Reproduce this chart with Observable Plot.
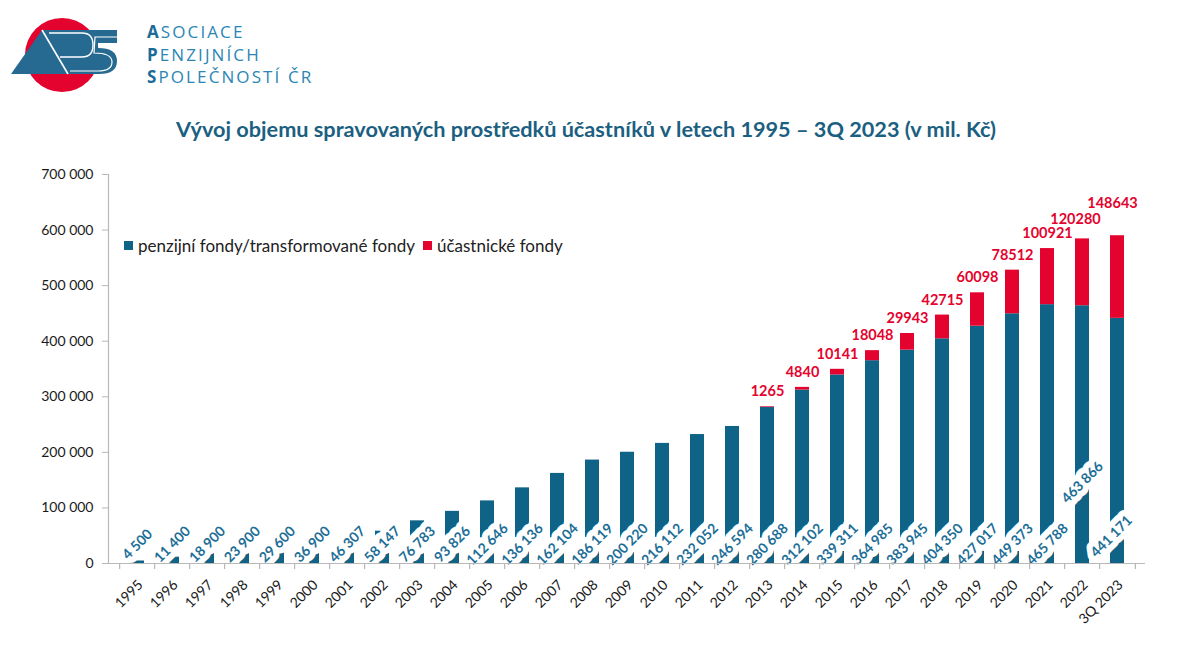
<!DOCTYPE html>
<html>
<head>
<meta charset="utf-8">
<script src="https://cdn.jsdelivr.net/npm/d3@7"></script>
<script src="https://cdn.jsdelivr.net/npm/@observablehq/plot@0.6"></script>
<style>
  body { margin: 0; background: #fff; font-family: Lato, "Open Sans", sans-serif; }
  #page { position: relative; width: 1200px; height: 661px; overflow: hidden; }
  #header { position: relative; height: 160px; }
  #logoText { position: absolute; left: 147px; top: 21px; font-family: "Open Sans", Lato, sans-serif; font-size: 17px; line-height: 22.5px; color: #2B86B3; letter-spacing: 2.1px; }
  #logoText b { color: #1A6B98; font-weight: 700; }
  #title { position: absolute; top: 116px; left: 586px; transform: translateX(-50%); white-space: nowrap; font-family: Lato, sans-serif; font-weight: 700; font-size: 21.7px; color: #1B5F81; }
  #legend { position: absolute; top: 235px; left: 124px; font-family: Lato, sans-serif; font-size: 17px; color: #222; display: flex; align-items: center; white-space: nowrap; }
  #legend .sw { display: inline-block; width: 9px; height: 9px; margin-right: 5px; }
  #legend .item { display: flex; align-items: center; margin-right: 8px; }
</style>
</head>
<body>
<div id="page">
  <div id="header">
    <svg width="130" height="100" style="position:absolute;left:0;top:0">
      <circle cx="62" cy="55" r="37" fill="#E4032E"/>
      <path d="M11,74 L42,30 L117,30 L117,43 L98,43 L98,48 Q117,48 117,61 Q117,74 99,74 Z" fill="#266A91"/>
      <path d="M42,30 L68,74" stroke="#fff" stroke-width="1.6" fill="none"/>
      <path d="M49,33 L82,33 Q93,33 93,45 Q93,57 82,57 L60,57" stroke="#fff" stroke-width="1.4" fill="none"/>
      <path d="M117,37 L95,37 L94,53 Q112,53 112,62 Q112,71 98,71 L70,71" stroke="#fff" stroke-width="1.2" fill="none"/>
    </svg>
    <div id="logoText"><b>A</b>SOCIACE<br><b>P</b>ENZIJNÍCH<br><b>S</b>POLEČNOSTÍ ČR</div>
    <div id="title">Vývoj objemu spravovaných prostředků účastníků v letech 1995 – 3Q 2023 (v mil. Kč)</div>
  </div>
  <div id="chart"></div>
  <div id="legend">
    <span class="item"><span class="sw" style="background:#0F6386"></span>penzijní fondy/transformované fondy</span>
    <span class="item"><span class="sw" style="background:#E4032E"></span>účastnické fondy</span>
  </div>
</div>
<script>
const categories = ["1995","1996","1997","1998","1999","2000","2001","2002","2003","2004","2005","2006","2007","2008","2009","2010","2011","2012","2013","2014","2015","2016","2017","2018","2019","2020","2021","2022","3Q 2023"];
const pensionFunds = [4500, 11400, 18900, 23900, 29600, 36900, 46307, 58147, 76783, 93826, 112646, 136136, 162104, 186119, 200220, 216112, 232052, 246594, 280688, 312102, 339311, 364985, 383945, 404350, 427017, 449373, 465788, 463866, 441171];
const participantFunds = [null, null, null, null, null, null, null, null, null, null, null, null, null, null, null, null, null, null, 1265, 4840, 10141, 18048, 29943, 42715, 60098, 78512, 100921, 120280, 148643];
const seriesNames = ["penzijní fondy/transformované fondy", "účastnické fondy"];
const yTicks = [0, 100000, 200000, 300000, 400000, 500000, 600000, 700000];

const BLUE = "#0F6386", RED = "#E4032E", LBLUE = "#1D6E96";
const spaceFmt = v => d3.format(",")(v).replace(/,/g, " ");

const blueRows = categories.map((c, i) => ({cat: c, series: seriesNames[0], value: pensionFunds[i]}));
const redRows = categories.map((c, i) => ({cat: c, series: seriesNames[1], value: participantFunds[i], total: pensionFunds[i] + (participantFunds[i] || 0)})).filter(d => d.value != null);
const rows = [...blueRows, ...redRows];

const font = "Lato, sans-serif";
const blueSpecial = {"2022": {dx: 0, dy: -81}, "3Q 2023": {dx: -6, dy: -27}};
const redSpecial = {"2022": {dx: -7, dy: -20}, "3Q 2023": {dx: -5, dy: -32}};

const blueLabel = (data, dx, dy) => Plot.text(data, {
  x: "cat", y: 0, text: d => spaceFmt(d.value), rotate: -45, dx, dy,
  fill: LBLUE, stroke: "white", strokeWidth: 12, strokeLinejoin: "round",
  fontWeight: "bold", fontSize: 14, fontFamily: font
});
const redLabel = (data, dx, dy) => Plot.text(data, {
  x: "cat", y: "total", text: d => String(d.value), dx, dy,
  fill: RED, fontWeight: "bold", fontSize: 14.5, fontFamily: font
});

const marks = [
  Plot.barY(rows, {x: "cat", y: "value", fill: "series"}),
  blueLabel(blueRows.filter(d => !blueSpecial[d.cat]), 0, -19),
  ...Object.entries(blueSpecial).map(([k, o]) => blueLabel(blueRows.filter(d => d.cat === k), o.dx, o.dy)),
  redLabel(redRows.filter(d => !redSpecial[d.cat]), 0, -15),
  ...Object.entries(redSpecial).map(([k, o]) => redLabel(redRows.filter(d => d.cat === k), o.dx, o.dy)),
  Plot.ruleY([0], {stroke: "#b8b8b8", strokeWidth: 1.2}),
  Plot.frame({anchor: "left", stroke: "#b8b8b8", strokeWidth: 1.2}),
  Plot.ruleX(categories, {x: d => d, dx: -1037 / 29 / 2, y1: 0, y2: -11000, stroke: "#b8b8b8", strokeWidth: 1.2}),
  Plot.ruleX([categories[categories.length - 1]], {x: d => d, dx: 1037 / 29 / 2, y1: 0, y2: -11000, stroke: "#b8b8b8", strokeWidth: 1.2}),
  Plot.axisY({ticks: yTicks, tickFormat: spaceFmt, tickSize: 6, tickPadding: 9, fontSize: 14, fontFamily: font, stroke: "#b8b8b8", fill: "#1a1a1a", label: null}),
  Plot.axisX({tickRotate: -45, tickSize: 0, tickPadding: 19, dx: 3, fontSize: 14, fontFamily: font, fill: "#1a1a1a", label: null})
];

const chart = Plot.plot({
  width: 1200,
  height: 501,
  marginTop: 14,
  marginBottom: 98,
  marginLeft: 108,
  marginRight: 55,
  style: {fontFamily: font, background: "white"},
  x: {domain: categories, paddingInner: 0.6, paddingOuter: 0.3, label: null, axis: null},
  y: {domain: [0, 700000], label: null, axis: null},
  color: {domain: seriesNames, range: [BLUE, RED]},
  marks
});
document.getElementById("chart").appendChild(chart);
</script>
</body>
</html>
